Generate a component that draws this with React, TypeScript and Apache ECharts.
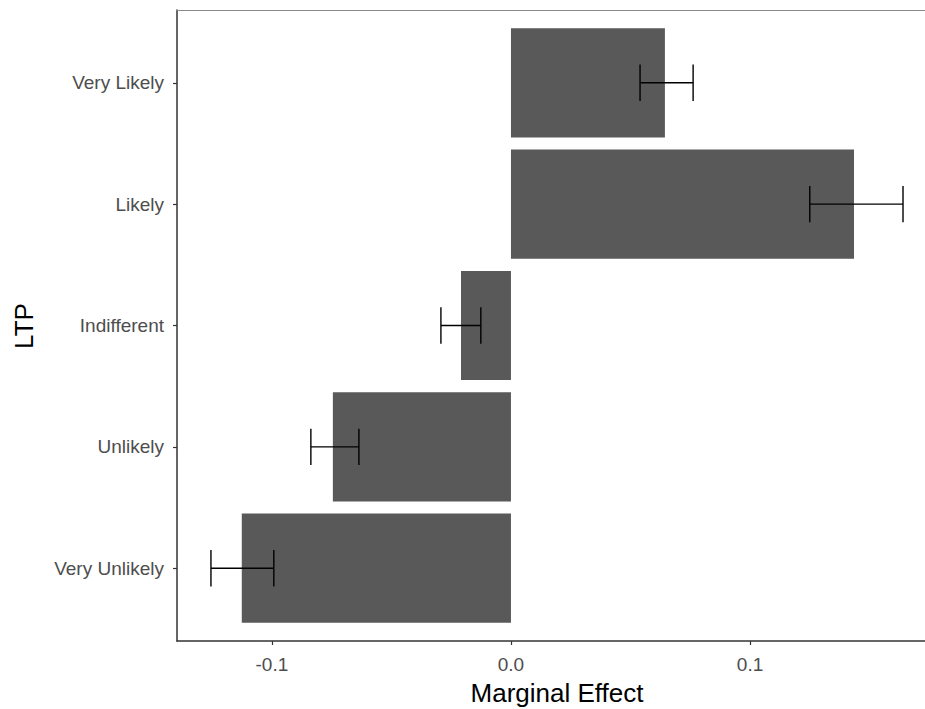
import React, { useEffect, useRef } from "react";
import * as echarts from "echarts";

const categories = ["Very Likely", "Likely", "Indifferent", "Unlikely", "Very Unlikely"];
const effects = [0.0644, 0.1435, -0.0209, -0.0745, -0.1126];
const lowerCI = [0.054, 0.125, -0.0293, -0.0837, -0.1255];
const upperCI = [0.0762, 0.164, -0.0126, -0.0636, -0.0992];
const xTicks = [-0.1, 0, 0.1];

export default function App() {
  const ref = useRef<HTMLDivElement>(null);
  useEffect(() => {
    if (!ref.current) return;
    const chart = echarts.init(ref.current, undefined, { renderer: "svg" });
    const catPos = categories.map((_, i) => i + 1);
    const font = "Liberation Sans, Arial, sans-serif";
    chart.setOption({
      animation: false,
      backgroundColor: "#ffffff",
      grid: { left: 177, right: 0, top: 10, bottom: 68, containLabel: false },
      xAxis: [
        {
          type: "value",
          min: -0.1397,
          max: 0.1732,
          position: "bottom",
          splitLine: { show: false },
          axisLine: { show: true, onZero: false, lineStyle: { color: "#333333", width: 1.5 } },
          axisTick: { show: true, length: 4, lineStyle: { color: "#333333", width: 1.2 }, customValues: xTicks },
          axisLabel: {
            customValues: xTicks,
            formatter: (v: number) => v.toFixed(1),
            color: "#4D4D4D",
            fontSize: 19,
            fontFamily: font,
            margin: 14,
          },
        },
        {
          type: "value",
          min: -0.1397,
          max: 0.1732,
          position: "top",
          splitLine: { show: false },
          axisLine: { show: true, onZero: false, lineStyle: { color: "#8a8a8a", width: 1.2 } },
          axisTick: { show: false },
          axisLabel: { show: false },
        },
      ],
      yAxis: {
        type: "value",
        min: 0.4,
        max: 5.6,
        inverse: true,
        splitLine: { show: false },
        axisLine: { show: true, onZero: false, lineStyle: { color: "#333333", width: 1.5 } },
        axisTick: { show: true, length: 4, lineStyle: { color: "#333333", width: 1.2 }, customValues: catPos },
        axisLabel: {
          customValues: catPos,
          formatter: (v: number) => categories[Math.round(v) - 1] ?? "",
          color: "#4D4D4D",
          fontSize: 19,
          fontFamily: font,
          margin: 13,
        },
      },
      graphic: [
        {
          type: "text",
          x: 557,
          y: 693,
          style: {
            text: "Marginal Effect",
            fill: "#000000",
            fontSize: 26,
            fontFamily: font,
            align: "center",
            verticalAlign: "middle",
          },
        },
        {
          type: "text",
          x: 24,
          y: 326,
          rotation: Math.PI / 2,
          style: {
            text: "LTP",
            fill: "#000000",
            fontSize: 26,
            fontFamily: font,
            align: "center",
            verticalAlign: "middle",
          },
        },
      ],
      series: [
        {
          type: "custom",
          name: "bars",
          data: effects.map((v, i) => [v, i + 1]),
          encode: { x: 0, y: 1 },
          renderItem: (params: any, api: any) => {
            const v = api.value(0);
            const c = api.value(1);
            const p0 = api.coord([0, c - 0.45]);
            const p1 = api.coord([v, c + 0.45]);
            return {
              type: "rect",
              shape: {
                x: Math.min(p0[0], p1[0]),
                y: Math.min(p0[1], p1[1]),
                width: Math.abs(p1[0] - p0[0]),
                height: Math.abs(p1[1] - p0[1]),
              },
              style: { fill: "#595959" },
            };
          },
        },
        {
          type: "custom",
          name: "errors",
          data: lowerCI.map((l, i) => [l, upperCI[i], i + 1]),
          encode: { x: [0, 1], y: 2 },
          renderItem: (params: any, api: any) => {
            const l = api.value(0);
            const u = api.value(1);
            const c = api.value(2);
            const a = api.coord([l, c]);
            const b = api.coord([u, c]);
            const t = api.coord([l, c - 0.15]);
            const bt = api.coord([l, c + 0.15]);
            const top = t[1];
            const bottom = bt[1];
            const style = { stroke: "#000000", lineWidth: 1.4 };
            return {
              type: "group",
              children: [
                { type: "line", shape: { x1: a[0], y1: a[1], x2: b[0], y2: b[1] }, style },
                { type: "line", shape: { x1: a[0], y1: top, x2: a[0], y2: bottom }, style },
                { type: "line", shape: { x1: b[0], y1: top, x2: b[0], y2: bottom }, style },
              ],
            };
          },
        },
      ],
    });
    return () => chart.dispose();
  }, []);
  return <div ref={ref} style={{ position: "absolute", left: 0, top: 0, width: 925, height: 709 }} />;
}
